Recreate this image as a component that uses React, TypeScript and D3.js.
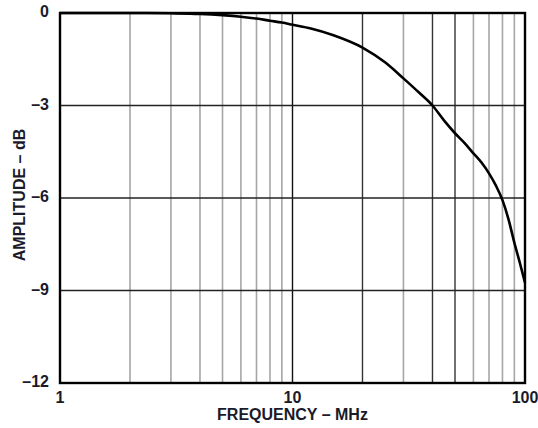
import React, { useRef, useEffect } from 'react';
import * as d3 from 'd3';

// frequency response
const FREQ_MHZ = [1, 2, 3, 4, 5, 6, 7, 8, 9, 10, 12, 15, 20, 25, 30, 35, 40, 45, 50, 55, 60, 65, 70, 75, 80, 85, 90, 95, 100];
const AMPLITUDE_DB = [0, 0, -0.01, -0.03, -0.07, -0.12, -0.18, -0.25, -0.31, -0.38, -0.5, -0.72, -1.12, -1.6, -2.12, -2.58, -3.0, -3.5, -3.9, -4.22, -4.55, -4.85, -5.2, -5.6, -6.07, -6.7, -7.45, -8.1, -8.75];

const Y_TICKS = [0, -3, -6, -9, -12];
const Y_TICK_LABELS = ['0', '\u20133', '\u20136', '\u20139', '\u201312'];
const X_TICKS = [1, 10, 100];
const X_TICK_LABELS = ['1', '10', '100'];
const X_GRID = [2, 3, 4, 5, 6, 7, 8, 9, 10, 20, 30, 40, 50, 60, 70, 80, 90];
const X_GRID_DARK = [10, 20, 40, 50];

export default function App() {
  const svgRef = useRef<SVGSVGElement | null>(null);

  useEffect(() => {
    if (!svgRef.current) return;
    const width = 538, height = 428;
    const margin = { top: 13, right: 13, bottom: 45, left: 60 };
    const innerW = width - margin.left - margin.right;
    const innerH = height - margin.top - margin.bottom;
    const font = '"Liberation Sans", Arial, sans-serif';

    const svg = d3.select(svgRef.current);
    svg.selectAll('*').remove();
    svg.attr('width', width).attr('height', height).attr('viewBox', `0 0 ${width} ${height}`);
    svg.append('rect').attr('width', width).attr('height', height).attr('fill', '#fff');
    const g = svg.append('g').attr('transform', `translate(${margin.left},${margin.top})`);

    const x = d3.scaleLog().domain([1, 100]).range([0, innerW]);
    const y = d3.scaleLinear().domain([-12, 0]).range([innerH, 0]);

    // vertical grid
    X_GRID.forEach((f) => {
      const dark = X_GRID_DARK.includes(f);
      g.append('line').attr('x1', x(f)).attr('x2', x(f)).attr('y1', 0).attr('y2', innerH)
        .attr('stroke', dark ? (f === 10 ? '#111' : '#333') : '#a6a6a6').attr('stroke-width', dark ? 1.4 : 1.6);
    });
    // horizontal grid
    Y_TICKS.forEach((t) => {
      g.append('line').attr('x1', 0).attr('x2', innerW).attr('y1', y(t)).attr('y2', y(t))
        .attr('stroke', '#222').attr('stroke-width', 1.3);
    });

    // curve
    const pts = FREQ_MHZ.map((f, i) => [x(f), y(AMPLITUDE_DB[i])] as [number, number]);
    g.append('path').attr('d', d3.line().curve(d3.curveMonotoneX)(pts))
      .attr('fill', 'none').attr('stroke', '#000').attr('stroke-width', 2.6).attr('stroke-linejoin', 'round');

    // frame
    g.append('rect').attr('x', 0).attr('y', 0).attr('width', innerW).attr('height', innerH)
      .attr('fill', 'none').attr('stroke', '#000').attr('stroke-width', 2.4);

    // y tick labels
    Y_TICKS.forEach((t, i) => {
      g.append('text').attr('x', -11).attr('y', y(t)).attr('text-anchor', 'end').attr('dominant-baseline', 'middle')
        .attr('font-family', font).attr('font-weight', 'bold').attr('font-size', '16px').attr('fill', '#1a1a2a')
        .text(Y_TICK_LABELS[i]);
    });
    // x tick labels
    X_TICKS.forEach((t, i) => {
      g.append('text').attr('x', x(t)).attr('y', innerH + 20).attr('text-anchor', 'middle')
        .attr('font-family', font).attr('font-weight', 'bold').attr('font-size', '16px').attr('fill', '#1a1a2a')
        .text(X_TICK_LABELS[i]);
    });

    g.append('text').attr('x', innerW / 2).attr('y', innerH + 37).attr('text-anchor', 'middle')
      .attr('font-family', font).attr('font-weight', 'bold').attr('font-size', '16px').attr('fill', '#1a1a2a')
      .text('FREQUENCY \u2013 MHz');
    g.append('text').attr('transform', 'rotate(-90)').attr('x', -innerH / 2 + 3).attr('y', -35)
      .attr('text-anchor', 'middle').attr('font-family', font).attr('font-weight', 'bold').attr('font-size', '16px')
      .attr('fill', '#1a1a2a').text('AMPLITUDE \u2013 dB');
  }, []);

  return (
    <div style={{ position: 'absolute', left: 0, top: 0 }}>
      <svg ref={svgRef} style={{ display: 'block' }} />
    </div>
  );
}
